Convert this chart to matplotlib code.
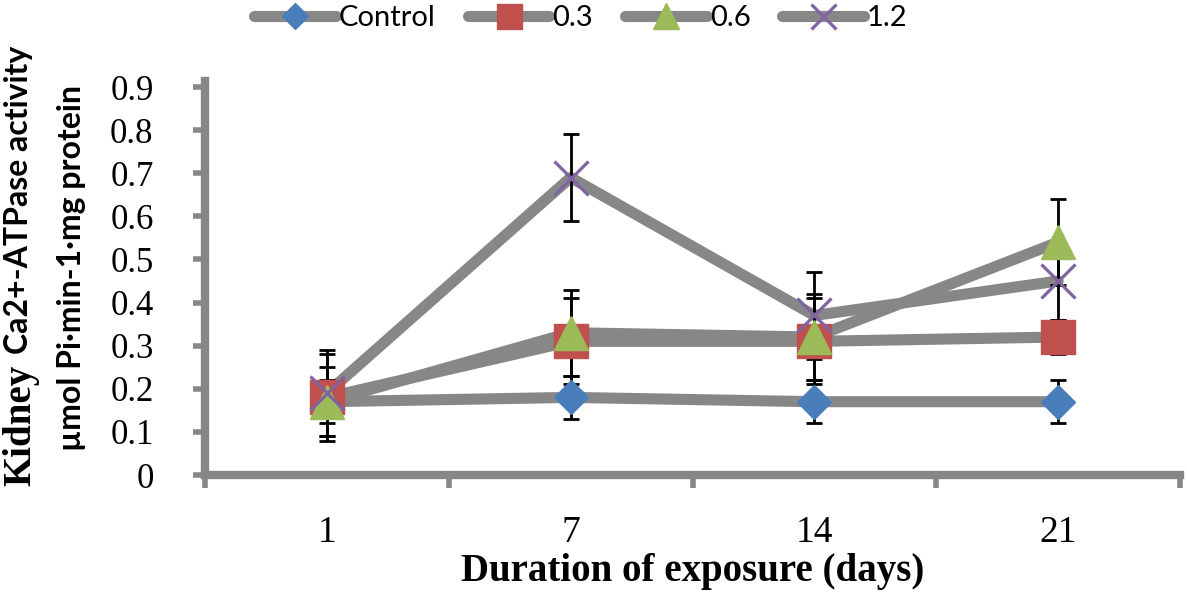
import matplotlib
matplotlib.use("Agg")
import matplotlib.pyplot as plt
from matplotlib.lines import Line2D
import numpy as np

days = ["1", "7", "14", "21"]
series_names = ["Control", "0.3", "0.6", "1.2"]
control = [0.17, 0.18, 0.17, 0.17]
conc_03 = [0.18, 0.31, 0.31, 0.32]
conc_06 = [0.17, 0.33, 0.32, 0.54]
conc_12 = [0.19, 0.69, 0.37, 0.45]
err_control = [0.05, 0.05, 0.05, 0.05]
err_03 = [0.10, 0.10, 0.10, 0.04]
err_06 = [0.08, 0.10, 0.10, 0.10]
err_12 = [0.10, 0.10, 0.10, 0.09]
yticks = [0, 0.1, 0.2, 0.3, 0.4, 0.5, 0.6, 0.7, 0.8, 0.9]

values = [control, conc_03, conc_06, conc_12]
errors = [err_control, err_03, err_06, err_12]
markers = ["D", "s", "^", "x"]
msizes = [17.5, 24, 25, 24]
colors = ["#4a7ebb", "#c0504d", "#9bbb59", "#8064a2"]
grey = "#878787"

fig = plt.figure(figsize=(11.87, 5.93), dpi=100)
ax = fig.add_axes([205/1187, (593-475)/593, (1180-205)/1187, (475-87)/593])

x = np.arange(len(days))
for vals in values:
    ax.plot(x, vals, color=grey, lw=8, solid_capstyle="round", zorder=2)
for vals, errs in zip(values, errors):
    ax.errorbar(x, vals, yerr=errs, fmt="none", ecolor="black", elinewidth=2,
                capsize=5.5, capthick=2, zorder=3)
handles = []
for name, vals, m, ms, c in zip(series_names, values, markers, msizes, colors):
    if m == "x":
        ax.plot(x, vals, ls="none", marker=m, ms=ms, mec=c, mew=2.3, zorder=4)
        h = Line2D([], [], color=grey, lw=8, marker=m, ms=ms*0.75, mec=c, mew=2.3,
                   solid_capstyle="round")
    else:
        ax.plot(x, vals, ls="none", marker=m, ms=ms, mfc=c, mec=c, zorder=4)
        h = Line2D([], [], color=grey, lw=8, marker=m, ms=ms*0.75, mfc=c, mec=c,
                   solid_capstyle="round")
    handles.append(h)

ax.set_xlim(-0.5, 3.5)
ax.set_ylim(0, 0.9)
ax.set_yticks(yticks)
ax.set_yticklabels(["0" if t == 0 else f"{t:.1f}" for t in yticks],
                   family="Liberation Serif", fontsize=25)
ax.set_xticks(x)
ax.set_xticklabels(days, family="Liberation Serif", fontsize=27)
ax.set_xticks([-0.5, 0.5, 1.5, 2.5, 3.5], minor=True)
ax.tick_params(axis="x", which="major", length=0, pad=29)
ax.tick_params(axis="x", which="minor", length=9, width=4, color=grey, direction="out")
ax.tick_params(axis="y", length=9, width=4, color=grey, direction="out", pad=28)

for s in ["top", "right"]:
    ax.spines[s].set_visible(False)
for s in ["left", "bottom"]:
    ax.spines[s].set_color(grey)
    ax.spines[s].set_linewidth(6)
ax.spines["left"].set_bounds(0, 0.915)
ax.patch.set_visible(False)

ax.set_xlabel("Duration of exposure (days)", family="Liberation Serif",
              fontweight="bold", fontsize=28, labelpad=2)

fig.text(21/1187, 1 - 425/593, "Kidney", rotation=90, family="Liberation Serif",
         fontweight="bold", fontsize=28, ha="center", va="center")
fig.text(19/1187, 1 - 200/593, "Ca2+-ATPase activity", rotation=90, family="Lato",
         fontweight="bold", fontsize=23, ha="center", va="center")
fig.text(72/1187, 1 - 268/593, "µmol Pi·min-1·mg protein", rotation=90, family="Lato",
         fontweight="bold", fontsize=23, ha="center", va="center")

leg = fig.legend(handles, series_names, loc="upper center", ncol=4,
                 bbox_to_anchor=(581/1187, 1.035), frameon=False,
                 prop={"family": "Lato", "size": 21}, handlelength=2.8,
                 handletextpad=0.1, columnspacing=1.1)

fig.savefig("out.png", dpi=100)
